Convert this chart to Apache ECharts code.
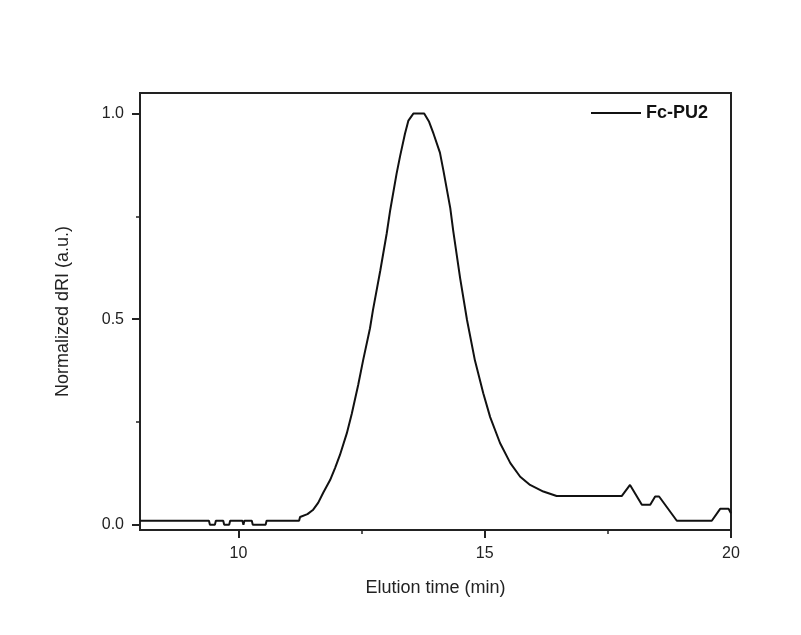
<!DOCTYPE html>
<html>
<head>
<meta charset="utf-8">
<script src="https://cdn.jsdelivr.net/npm/echarts@6/dist/echarts.min.js"></script>
<style>
html,body{margin:0;padding:0;background:#fff;}
#chart{width:801px;height:635px;}
</style>
</head>
<body>
<div id="chart"></div>
<script>
// Elution time (min)
const time = [8.0, 9.40, 9.42, 9.52, 9.54, 9.69, 9.71, 9.81, 9.83, 10.08, 10.10, 10.12, 10.27, 10.29, 10.55, 10.57,
  11.23, 11.25, 11.40, 11.51, 11.62, 11.72, 11.86, 11.96, 12.06, 12.20, 12.30, 12.43, 12.53, 12.67, 12.73, 12.88, 13.01, 13.08, 13.21,
  13.28, 13.38, 13.45, 13.55, 13.77, 13.87, 13.96, 14.09, 14.16, 14.30, 14.36, 14.50, 14.64, 14.80, 14.97, 15.11, 15.31,
  15.52, 15.72, 15.92, 16.19, 16.46, 17.78, 17.95, 18.19, 18.36, 18.46, 18.54, 18.90, 19.61, 19.78, 19.95, 20.0];
// Normalized dRI (a.u.)
const dri = [0.01, 0.01, 0.0, 0.0, 0.01, 0.01, 0.0, 0.0, 0.01, 0.01, 0.0, 0.01, 0.01, 0.0, 0.0, 0.01,
  0.01, 0.019, 0.026, 0.036, 0.054, 0.078, 0.109, 0.138, 0.170, 0.223, 0.270, 0.340, 0.400, 0.478, 0.522, 0.619, 0.709, 0.765, 0.854,
  0.896, 0.951, 0.983, 1.0, 1.0, 0.980, 0.951, 0.905, 0.862, 0.770, 0.715, 0.600, 0.498, 0.400, 0.320, 0.262, 0.199,
  0.150, 0.117, 0.097, 0.081, 0.070, 0.070, 0.097, 0.049, 0.049, 0.069, 0.069, 0.01, 0.01, 0.039, 0.039, 0.028];
const xMajor = [10, 15, 20];
const xMinor = [12.5, 17.5];
const yMajor = [0, 0.5, 1];
const yMinor = [0.25, 0.75];
const seriesName = 'Fc-PU2';

const chart = echarts.init(document.getElementById('chart'));
const font = 'Liberation Sans, Arial, sans-serif';
const axCol = '#222';
const xMin = 8, xMax = 20, yMin = -0.0125, yMax = 1.05;
chart.setOption({
  backgroundColor: '#fff',
  animation: false,
  grid: {left: 140, top: 93, right: 70, bottom: 105, show: true, borderColor: axCol, borderWidth: 2, backgroundColor: 'transparent'},
  legend: {
    left: 586, top: 99, itemWidth: 50, itemHeight: 14, itemGap: 6,
    data: [{name: seriesName, icon: 'path://M0,6 L50,6 L50,8 L0,8 Z'}],
    textStyle: {fontFamily: font, fontSize: 18, fontWeight: 'bold', color: '#111'}
  },
  xAxis: [{
    type: 'value', min: xMin, max: xMax,
    name: 'Elution time (min)', nameLocation: 'middle', nameGap: 49,
    nameTextStyle: {fontFamily: font, fontSize: 18, color: '#222'},
    axisLine: {show: true, onZero: false, lineStyle: {color: axCol, width: 2}},
    axisTick: {show: true, inside: false, length: 8, customValues: xMajor, lineStyle: {color: axCol, width: 2}},
    axisLabel: {customValues: xMajor, margin: 16, fontFamily: font, fontSize: 16, color: '#222'},
    splitLine: {show: false}
  }, {
    type: 'value', min: xMin, max: xMax, position: 'bottom', offset: 0,
    axisLine: {show: false, onZero: false},
    axisTick: {show: true, inside: false, length: 4, customValues: xMinor, lineStyle: {color: axCol, width: 1.5}},
    axisLabel: {show: false}, splitLine: {show: false}
  }],
  yAxis: [{
    type: 'value', min: yMin, max: yMax,
    name: 'Normalized dRI (a.u.)', nameLocation: 'middle', nameGap: 68,
    nameTextStyle: {fontFamily: font, fontSize: 18, color: '#222'},
    axisLine: {show: true, onZero: false, lineStyle: {color: axCol, width: 2}},
    axisTick: {show: true, inside: false, length: 8, customValues: yMajor, lineStyle: {color: axCol, width: 2}},
    axisLabel: {customValues: yMajor, margin: 16, fontFamily: font, fontSize: 16, color: '#222',
      formatter: v => v.toFixed(1)},
    splitLine: {show: false}
  }, {
    type: 'value', min: yMin, max: yMax, position: 'left', offset: 0,
    axisLine: {show: false, onZero: false},
    axisTick: {show: true, inside: false, length: 4, customValues: yMinor, lineStyle: {color: axCol, width: 1.5}},
    axisLabel: {show: false}, splitLine: {show: false}
  }],
  series: [{
    name: seriesName, type: 'line', xAxisIndex: 0, yAxisIndex: 0,
    data: time.map((t, i) => [t, dri[i]]),
    symbol: 'none', showSymbol: false,
    lineStyle: {color: '#111', width: 2},
    itemStyle: {color: '#111'}
  }]
});
</script>
</body>
</html>
